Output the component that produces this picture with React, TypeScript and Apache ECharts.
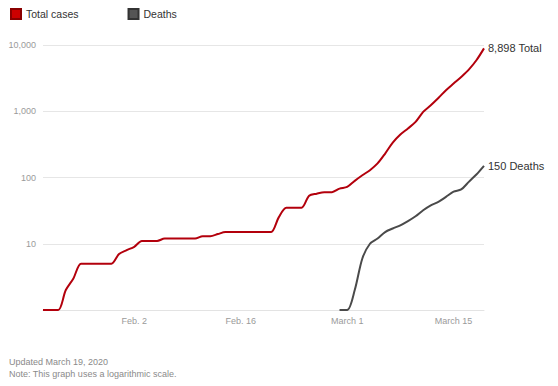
import React, { useEffect, useRef } from "react";
import * as echarts from "echarts";

const dates = [
  "Jan 21", "Jan 22", "Jan 23", "Jan 24", "Jan 25", "Jan 26", "Jan 27", "Jan 28", "Jan 29", "Jan 30", "Jan 31",
  "Feb 1", "Feb 2", "Feb 3", "Feb 4", "Feb 5", "Feb 6", "Feb 7", "Feb 8", "Feb 9", "Feb 10",
  "Feb 11", "Feb 12", "Feb 13", "Feb 14", "Feb 15", "Feb 16", "Feb 17", "Feb 18", "Feb 19", "Feb 20",
  "Feb 21", "Feb 22", "Feb 23", "Feb 24", "Feb 25", "Feb 26", "Feb 27", "Feb 28", "Feb 29",
  "Mar 1", "Mar 2", "Mar 3", "Mar 4", "Mar 5", "Mar 6", "Mar 7", "Mar 8", "Mar 9", "Mar 10",
  "Mar 11", "Mar 12", "Mar 13", "Mar 14", "Mar 15", "Mar 16", "Mar 17", "Mar 18", "Mar 19",
];

const totalCases = [
  1, 1, 1, 2, 3, 5, 5, 5, 5, 5, 7,
  8, 9, 11, 11, 11, 12, 12, 12, 12, 12,
  13, 13, 14, 15, 15, 15, 15, 15, 15, 15,
  25, 35, 35, 35, 53, 57, 60, 60, 68,
  72, 89, 108, 129, 163, 230, 336, 445, 550, 690,
  977, 1234, 1588, 2075, 2618, 3296, 4250, 5880, 8898,
];

const deaths = [
  null, null, null, null, null, null, null, null, null, null, null,
  null, null, null, null, null, null, null, null, null, null,
  null, null, null, null, null, null, null, null, null, null,
  null, null, null, null, null, null, null, null, 1,
  1, 2, 6, 10, 12, 15, 17, 19, 22, 26,
  32, 38, 43, 51, 61, 66, 86, 111, 150,
];

const tickLabels: Record<string, string> = {
  "Feb 2": "Feb. 2",
  "Feb 16": "Feb. 16",
  "Mar 1": "March 1",
  "Mar 15": "March 15",
};

const yTicks = [1, 10, 100, 1000, 10000];

const FONT = "'Liberation Sans', Arial, Helvetica, sans-serif";

export default function App() {
  const ref = useRef<HTMLDivElement>(null);
  useEffect(() => {
    document.body.style.margin = "0";
    const chart = echarts.init(ref.current!, null, { renderer: "svg" });
    chart.setOption({
      animation: false,
      backgroundColor: "#ffffff",
      textStyle: { fontFamily: FONT },
      legend: {
        data: ["Total cases", "Deaths"],
        left: 5,
        top: 3,
        icon: "rect",
        itemWidth: 10,
        itemHeight: 10,
        itemGap: 49,
        textStyle: { fontSize: 10.5, color: "#333", fontFamily: FONT },
      },
      grid: { left: 43, right: 74, top: 45, bottom: 76 },
      xAxis: {
        type: "category",
        data: dates,
        boundaryGap: false,
        axisLine: { lineStyle: { color: "#e3e3e3" } },
        axisTick: { show: false },
        splitLine: { show: false },
        axisLabel: {
          interval: (_i: number, v: string) => v in tickLabels,
          formatter: (v: string) => tickLabels[v] || "",
          color: "#9a9a9a",
          fontSize: 9,
          margin: 6,
          fontFamily: FONT,
        },
      },
      yAxis: {
        type: "log",
        logBase: 10,
        min: yTicks[0],
        max: yTicks[yTicks.length - 1],
        axisLine: { show: false },
        axisTick: { show: false },
        splitLine: { lineStyle: { color: "#e6e6e6" } },
        axisLabel: {
          color: "#9a9a9a",
          fontSize: 9,
          margin: 7,
          fontFamily: FONT,
          formatter: (v: number) => (v <= 1 ? "" : Math.round(v).toLocaleString("en-US")),
        },
      },
      series: [
        {
          name: "Total cases",
          type: "line",
          data: totalCases,
          showSymbol: false,
          smooth: 0.3,
          color: "#cc0000",
          lineStyle: { color: "#b3000c", width: 2 },
          itemStyle: { color: "#cc0000", borderColor: "#8a0000", borderWidth: 1 },
          endLabel: {
            show: true,
            formatter: "8,898 Total",
            color: "#333",
            fontSize: 11,
            distance: 4,
            fontFamily: FONT,
          },
        },
        {
          name: "Deaths",
          type: "line",
          data: deaths,
          showSymbol: false,
          smooth: 0.3,
          color: "#555555",
          lineStyle: { color: "#4a4a4a", width: 2 },
          itemStyle: { color: "#555555", borderColor: "#333333", borderWidth: 1 },
          endLabel: {
            show: true,
            formatter: "150 Deaths",
            color: "#333",
            fontSize: 11,
            distance: 4,
            fontFamily: FONT,
          },
        },
      ],
      graphic: [
        {
          type: "text",
          left: 9,
          top: 357,
          style: { text: "Updated March 19, 2020", fontSize: 9, fill: "#8a8a8a", fontFamily: FONT },
        },
        {
          type: "text",
          left: 9,
          top: 369,
          style: { text: "Note: This graph uses a logarithmic scale.", fontSize: 9, fill: "#8a8a8a", fontFamily: FONT },
        },
      ],
    });
    return () => chart.dispose();
  }, []);
  return <div ref={ref} style={{ width: 558, height: 386 }} />;
}
